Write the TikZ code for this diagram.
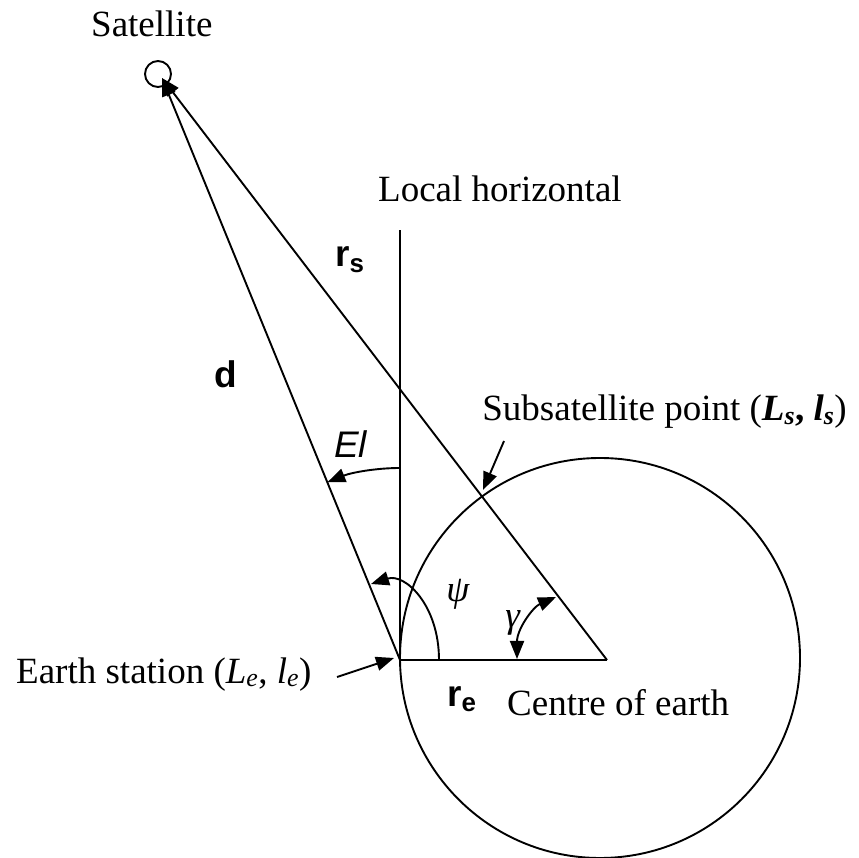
\documentclass[tikz,border=0pt]{standalone}
\usepackage{fontspec}
\setmainfont{Liberation Serif}
\setsansfont{Liberation Sans}
\usetikzlibrary{arrows.meta}
\begin{document}
\begin{tikzpicture}[x=1pt,y=1pt,
  ln/.style={line width=1.9pt},
  arr/.style={ln,-{Triangle[length=18pt,width=14pt]}},
  darr/.style={ln,{Triangle[length=18pt,width=14pt]}-{Triangle[length=18pt,width=14pt]}},
  serif/.style={font=\fontsize{37}{40}\selectfont, inner sep=0pt, anchor=base west},
  sans/.style={font=\sffamily\fontsize{37}{40}\selectfont, inner sep=0pt, anchor=base west}]
\useasboundingbox (0,0) rectangle (859,857);
% points
\coordinate (es) at (400,197);
\coordinate (ce) at (607,197);
\coordinate (tip) at (162,779);
\coordinate (vtop) at (400,627);
\coordinate (earthc) at (600,199);
\coordinate (subs) at (483,367);
\coordinate (subsfrom) at (504,416);
\coordinate (esfrom) at (337,180);
\coordinate (estip) at (394,199);
\coordinate (psiA) at (439,197);
\coordinate (psiB) at (371,273);
\coordinate (gamA) at (517,198);
\coordinate (gamB) at (556,260);
% satellite
\node[draw, ln, circle, minimum size=26pt, inner sep=0pt] (sat) at (158,783) {};
% earth
\draw[ln] (earthc) circle[radius=200];
% lines
\draw[ln] (es) -- (vtop);
\draw[ln] (es) -- (ce);
\draw[arr] (es) -- (tip);
\draw[arr] (ce) -- (tip);
% angle arcs
\draw[arr] (es) ++(90:192) arc[start angle=90, end angle=112.24, radius=192];
\draw[arr] (psiA) .. controls (439,252) and (405,284) .. (psiB);
\draw[darr] (gamA) .. controls (517,228) and (533,250) .. (gamB);
% pointer arrows
\draw[arr] (subsfrom) -- (subs);
\draw[arr] (esfrom) -- (estip);
% labels
\node[serif] (tsat) at (91,820) {Satellite};
\node[serif] (tloc) at (378,655) {Local horizontal};
\node[serif, anchor=base east] (tsub) at (847,436) {Subsatellite point (\textbf{\textit{L\textsubscript{s}}}\textbf{,} \textbf{\textit{l\textsubscript{s}}})};
\node[serif] (tes) at (16,174) {Earth station (\textit{L\textsubscript{e}}, \textit{l\textsubscript{e}})};
\node[serif] (tce) at (507,142) {Centre of earth};
\node[sans] (td) at (214,469) {\textbf{d}};
\node[sans] (trs) at (335,590) {\textbf{r\textsubscript{s}}};
\node[sans] (tre) at (447,151) {\textbf{r\textsubscript{e}}};
\node[sans] (tel) at (334,399) {\textit{El}};
\node[serif, anchor=center] (tpsi) at (458,263) {\textit{ψ}};
\node[serif, anchor=center] (tgam) at (513,234) {\textit{γ}};
\end{tikzpicture}
\end{document}
